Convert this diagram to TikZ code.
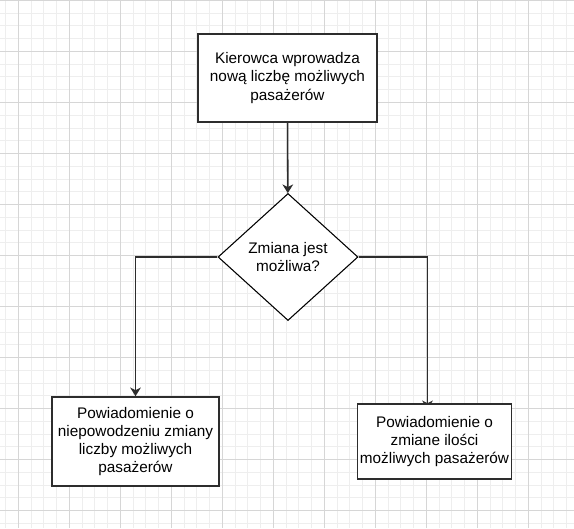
\documentclass[tikz,border=0pt]{standalone}
\usepackage{fontspec}
\setmainfont{Liberation Sans}
\usetikzlibrary{arrows.meta,positioning,calc,shapes.geometric,backgrounds}
\definecolor{gridmajor}{RGB}{214,214,214}
\definecolor{gridminor}{RGB}{238,238,238}
\definecolor{edgecolor}{RGB}{45,45,45}
\tikzset{
  % text of every shape
  flowtext/.style={font=\fontsize{11.5pt}{13.6pt}\selectfont, align=center, text=black},
  % rectangular process boxes
  procbox/.style={flowtext, rectangle, draw=edgecolor, line width=1.1pt, fill=white, inner sep=2pt},
  % the decision diamond
  decbox/.style={flowtext, diamond, draw=black, line width=0.8pt, fill=white, inner sep=0pt,
    minimum width=105pt, minimum height=95.3pt},
  % connectors
  flowln/.style={-{Stealth[length=6.5pt,width=8pt,inset=2pt]}, line width=1.15pt, edgecolor},
  % drawing grid
  gridminorln/.style={gridminor, line width=0.75pt},
  gridmajorln/.style={gridmajor, line width=0.75pt},
}

\begin{document}
\begin{tikzpicture}[x=0.75pt, y=-0.75pt]
    \useasboundingbox (0,0) rectangle (574,528);
    % --- boxes of the chart ---
    \node[procbox, minimum width=134.3pt, minimum height=66pt] (entry) at (287.5,78)
      {Kierowca wprowadza\\nową liczbę możliwych\\pasażerów};
    \node[decbox] (check) at (288,257) {Zmiana jest\\możliwa?};
    \node[procbox, minimum width=125.3pt, minimum height=66.8pt] (fail) at (135.5,441.5)
      {Powiadomienie o\\niepowodzeniu zmiany\\liczby możliwych\\pasażerów};
    \node[procbox, minimum width=114.8pt, minimum height=56.3pt] (done) at (434.5,441.5)
      {Powiadomienie o\\zmiane ilości\\możliwych pasażerów};
    \coordinate (donein) at ($(done.north)+(-7,0)$);
    \begin{scope}[on background layer]
      % --- grid behind everything ---
      \foreach \i in {0,...,44}
        \draw[gridminorln] (5.55+\i*12.75,0) -- ++(0,528);
      \foreach \i in {0,...,41}
        \draw[gridminorln] (0,0.5+\i*12.75) -- ++(574,0);
      \foreach \i in {0,...,11}
        \draw[gridmajorln] (18.3+\i*51,0) -- ++(0,528);
      \foreach \i in {0,...,10}
        \draw[gridmajorln] (0,0.5+\i*51) -- ++(574,0);
      % --- connectors (tip of the right one hides under its box) ---
      \draw[flowln] (entry) -- (check);
      \draw[flowln] (check.west) -| (fail.north);
      \draw[flowln, shorten >=-4.5pt] (check.east) -| (donein);
    \end{scope}
  \end{tikzpicture}
\end{document}
